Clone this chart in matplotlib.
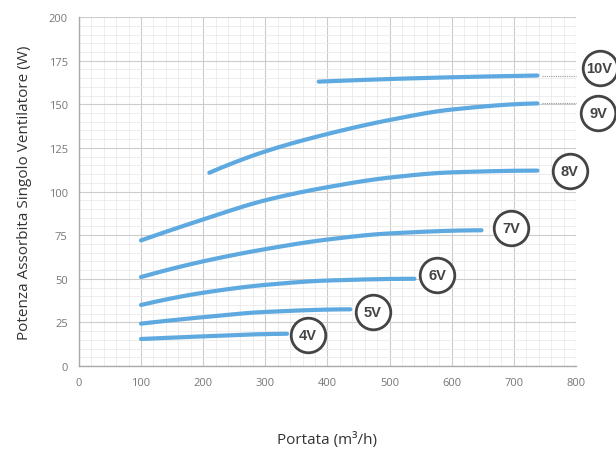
import matplotlib
matplotlib.use("Agg")
import matplotlib.pyplot as plt
from matplotlib.ticker import MultipleLocator
import numpy as np

plt.rcParams['font.family'] = ['Open Sans', 'DejaVu Sans']

# Data
v4_x = [100, 200, 300, 335]
v4_y = [15.5, 17, 18.3, 18.5]
v5_x = [100, 200, 300, 437]
v5_y = [24.3, 28, 31, 32.5]
v6_x = [100, 200, 300, 400, 540]
v6_y = [35, 42, 46.5, 49, 50]
v7_x = [100, 200, 300, 400, 500, 648]
v7_y = [51, 60, 67, 72.5, 76, 77.8]
v8_x = [100, 200, 300, 400, 500, 600, 738]
v8_y = [72, 84, 95, 102.5, 108, 111, 112]
v9_x = [210, 300, 400, 500, 600, 738]
v9_y = [110.8, 123, 133, 141, 147, 150.5]
v10_x = [386, 500, 600, 738]
v10_y = [163, 164.5, 165.5, 166.5]

series = [("4V", v4_x, v4_y), ("5V", v5_x, v5_y), ("6V", v6_x, v6_y),
          ("7V", v7_x, v7_y), ("8V", v8_x, v8_y), ("9V", v9_x, v9_y),
          ("10V", v10_x, v10_y)]

label_names = ["4V", "5V", "6V", "7V", "8V", "9V", "10V"]
label_x = [369, 473, 577, 696, 790, 836, 838]
label_y = [18, 31, 52, 79, 112, 145, 171]


def pchip(xs, ys, t):
    xs = np.asarray(xs, float); ys = np.asarray(ys, float)
    h = np.diff(xs); d = np.diff(ys) / h
    n = len(xs)
    m = np.zeros(n)
    if n == 2:
        m[:] = d[0]
    else:
        for i in range(1, n - 1):
            if d[i - 1] * d[i] <= 0:
                m[i] = 0
            else:
                w1 = 2 * h[i] + h[i - 1]; w2 = h[i] + 2 * h[i - 1]
                m[i] = (w1 + w2) / (w1 / d[i - 1] + w2 / d[i])
        m[0] = max(0.0, ((2 * h[0] + h[1]) * d[0] - h[0] * d[1]) / (h[0] + h[1])) if d[0] > 0 else d[0]
        m[-1] = max(0.0, ((2 * h[-1] + h[-2]) * d[-1] - h[-1] * d[-2]) / (h[-1] + h[-2])) if d[-1] > 0 else d[-1]
    idx = np.clip(np.searchsorted(xs, t) - 1, 0, n - 2)
    x0 = xs[idx]; hh = h[idx]; s = (t - x0) / hh
    y0 = ys[idx]; y1 = ys[idx + 1]; m0 = m[idx]; m1 = m[idx + 1]
    h00 = 2 * s**3 - 3 * s**2 + 1; h10 = s**3 - 2 * s**2 + s
    h01 = -2 * s**3 + 3 * s**2; h11 = s**3 - s**2
    return h00 * y0 + h10 * hh * m0 + h01 * y1 + h11 * hh * m1


fig = plt.figure(figsize=(6.16, 4.52), dpi=100)
ax = fig.add_axes([0.128, 0.188, 0.807, 0.772])

line_color = "#5DA9E0"
for name, xs, ys in series:
    t = np.linspace(xs[0], xs[-1], 200)
    ax.plot(t, pchip(xs, ys, t), color=line_color, lw=3.0,
            solid_capstyle='round', zorder=3)

# dotted extensions for 9V and 10V
ax.plot([745, 800], [150.5, 150.5], color="#999999", lw=0.8, ls=(0, (1, 1)), zorder=2, clip_on=False)
ax.plot([745, 800], [166.5, 166.5], color="#999999", lw=0.8, ls=(0, (1, 1)), zorder=2, clip_on=False)

for name, lx, ly in zip(label_names, label_x, label_y):
    ax.scatter([lx], [ly], s=620, facecolor="white", edgecolor="#444444",
               linewidth=2.0, zorder=5, clip_on=False)
    ax.text(lx, ly, name, ha='center', va='center', fontsize=10.5,
            fontweight='bold', color="#444444", zorder=6, clip_on=False,
            family=['Liberation Sans', 'DejaVu Sans'])

ax.set_xlim(0, 800)
ax.set_ylim(0, 200)
ax.xaxis.set_major_locator(MultipleLocator(100))
ax.yaxis.set_major_locator(MultipleLocator(25))
ax.xaxis.set_minor_locator(MultipleLocator(20))
ax.yaxis.set_minor_locator(MultipleLocator(5))
ax.grid(which='major', color="#cccccc", lw=0.8, zorder=0)
ax.grid(which='minor', color="#eaeaea", lw=0.6, zorder=0)
ax.set_axisbelow(True)
ax.tick_params(which='both', length=0)
ax.tick_params(axis='both', labelsize=8, labelcolor="#777777", pad=8)
for s in ['top', 'right']:
    ax.spines[s].set_visible(False)
for s in ['left', 'bottom']:
    ax.spines[s].set_color("#aaaaaa")
    ax.spines[s].set_linewidth(1.0)

fig.text(0.531, 1 - 440 / 452, "Portata (m³/h)", fontsize=11, color="#333333",
         ha='center', va='center')
ax.set_ylabel("Potenza Assorbita Singolo Ventilatore (W)", fontsize=11,
              color="#333333", labelpad=12)

fig.savefig("out.png", dpi=100)
